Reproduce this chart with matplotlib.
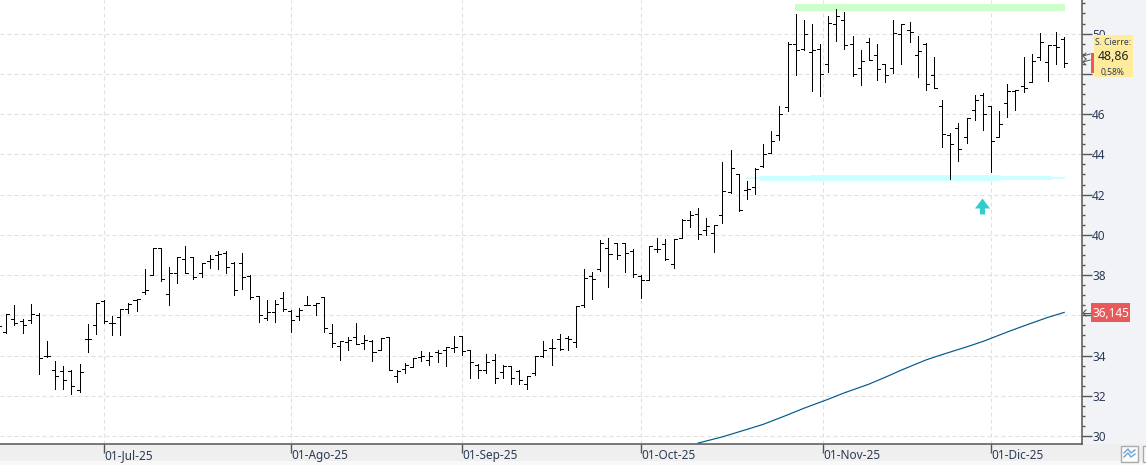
import matplotlib
matplotlib.use("Agg")
import matplotlib.pyplot as plt
from matplotlib.patches import Rectangle
from matplotlib.path import Path
from matplotlib.ticker import FixedFormatter, FixedLocator, MultipleLocator
from matplotlib.transforms import ScaledTranslation

plt.rcParams['font.family'] = ['Noto Sans', 'DejaVu Sans']

# daily bars
opens = [35.5, 35.17, 35.8, 35.7, 35.77, 36.0, 34.0, 33.27, 33.23, 33.23,
         32.27, 34.8, 35.5, 36.73, 35.63, 35.9, 36.3, 36.75, 37.15, 38.02,
         39.33, 37.05, 38.12, 38.78, 38.88, 38.08, 38.72, 38.98, 39.08, 38.58,
         38.62, 37.95, 36.95, 35.88, 36.18, 36.88, 36.22, 35.98, 36.52, 36.52,
         36.92, 35.1, 34.5, 34.67, 34.9, 34.6, 34.73, 34.3, 34.9, 33.0,
         33.33, 33.43, 33.93, 33.77, 34.2, 34.3, 34.4, 34.97, 34.3, 33.53,
         33.27, 33.8, 33.17, 33.5, 33.23, 32.57, 33.13, 33.97, 34.37, 34.8,
         34.87, 34.67, 36.5, 37.95, 38.3, 39.35, 39.6, 39.6, 39.22, 37.95,
         37.75, 39.3, 39.55, 38.55, 39.85, 40.75, 41.05, 40.25, 40.1, 41.0,
         42.13, 43.02, 42.25, 42.38, 43.42, 44.07, 44.98, 46.37, 49.47, 49.24,
         49.1, 49.25, 48.5, 50.5, 50.7, 49.5, 48.31, 49.6, 48.96, 48.51,
         48.31, 50.0, 50.2, 48.96, 49.5, 47.96, 46.42, 44.98, 45.33, 44.88,
         46.19, 46.97, 46.42, 44.88, 46.57, 47.17, 47.42, 47.6, 48.86, 48.61,
         49.45, 49.75]
highs = [36.0, 36.07, 36.5, 35.8, 36.57, 36.1, 34.7, 33.73, 33.5, 33.3,
         33.57, 35.57, 36.6, 36.77, 35.97, 36.3, 36.6, 36.82, 38.28, 39.33,
         39.33, 38.38, 38.88, 39.45, 38.88, 38.58, 38.98, 39.18, 39.18, 38.65,
         39.08, 37.98, 36.95, 36.75, 36.75, 37.15, 36.25, 36.35, 36.98, 36.62,
         36.92, 35.57, 34.7, 34.93, 35.6, 35.0, 34.77, 34.87, 34.9, 33.27,
         33.63, 33.87, 34.23, 34.2, 34.27, 34.43, 34.97, 34.97, 34.3, 33.57,
         34.07, 34.1, 33.53, 33.5, 33.3, 33.0, 33.97, 34.7, 34.8, 35.07,
         34.97, 36.47, 38.32, 38.15, 39.75, 39.82, 39.6, 39.6, 39.32, 38.02,
         39.45, 39.85, 39.8, 39.8, 40.8, 41.2, 41.35, 40.85, 40.5, 43.6,
         44.22, 43.02, 42.67, 43.3, 44.5, 45.15, 46.39, 49.57, 50.99, 50.66,
         50.46, 49.5, 50.86, 51.24, 51.06, 49.87, 49.17, 49.8, 49.47, 48.51,
         50.66, 50.5, 50.56, 49.87, 49.55, 48.82, 46.69, 45.08, 45.58, 45.83,
         46.97, 47.07, 46.42, 46.13, 47.52, 47.22, 48.82, 49.01, 50.05, 49.42,
         50.1, 49.85]
lows = [35.2, 35.1, 35.5, 35.1, 35.63, 33.1, 33.93, 32.33, 32.33, 32.07,
        32.2, 34.17, 35.07, 35.6, 35.03, 35.03, 36.1, 36.22, 37.05, 38.0,
        37.72, 36.52, 37.62, 38.08, 37.82, 37.92, 38.35, 38.28, 38.08, 37.02,
        37.32, 36.82, 35.68, 35.78, 35.65, 36.22, 35.15, 35.75, 36.52, 36.02,
        35.15, 34.43, 33.8, 34.27, 34.57, 34.33, 33.73, 34.27, 33.3, 32.67,
        33.13, 33.43, 33.73, 33.53, 33.67, 33.47, 34.17, 34.03, 32.87, 32.87,
        33.13, 32.63, 32.9, 32.57, 32.6, 32.33, 33.03, 33.93, 33.53, 34.27,
        34.27, 34.43, 36.4, 36.83, 38.18, 37.43, 38.78, 38.13, 37.88, 36.88,
        37.75, 39.13, 38.75, 38.33, 39.85, 40.38, 39.8, 39.97, 39.13, 40.58,
        42.1, 41.2, 41.78, 42.03, 43.38, 44.07, 44.7, 46.14, 47.95, 49.2,
        47.15, 46.9, 48.1, 49.64, 49.24, 47.9, 47.45, 48.71, 47.7, 47.6,
        48.05, 48.49, 49.57, 47.85, 47.19, 47.3, 44.37, 42.78, 43.68, 44.57,
        45.71, 45.22, 43.11, 44.88, 45.86, 46.19, 47.1, 47.6, 48.68, 47.65,
        48.49, 48.34]
closes = [35.47, 36.07, 35.63, 35.53, 36.07, 33.87, 33.97, 32.97, 32.8, 32.5,
          33.2, 34.83, 36.6, 35.73, 35.63, 36.3, 36.57, 36.82, 37.28, 39.33,
          37.8, 38.08, 38.88, 38.12, 37.92, 38.58, 38.78, 39.05, 38.38, 37.28,
          37.92, 36.92, 36.02, 36.15, 36.55, 36.32, 35.78, 36.25, 36.52, 36.62,
          35.38, 34.6, 34.7, 34.77, 34.57, 34.77, 34.2, 34.87, 33.3, 33.23,
          33.53, 33.87, 34.0, 34.0, 34.13, 34.43, 34.43, 34.23, 33.67, 33.27,
          33.67, 32.87, 33.47, 32.9, 32.77, 32.97, 33.97, 34.27, 34.37, 34.33,
          34.8, 36.47, 37.85, 37.8, 39.6, 39.05, 38.98, 39.1, 38.05, 37.75,
          39.45, 39.3, 38.8, 39.8, 40.72, 41.0, 40.05, 40.45, 40.5, 42.2,
          43.3, 41.23, 42.28, 43.25, 44.0, 44.64, 45.98, 49.47, 49.2, 49.97,
          49.2, 47.98, 50.55, 50.89, 49.45, 48.01, 48.66, 48.71, 48.26, 47.96,
          50.05, 50.5, 50.1, 49.16, 47.52, 47.3, 45.03, 44.49, 44.29, 45.79,
          46.69, 45.98, 44.64, 45.53, 47.17, 47.22, 47.32, 48.66, 49.6, 49.42,
          49.35, 48.56]

# moving average, read at a few bars
ma_bars = [86, 89, 92, 94, 97, 99, 102, 104, 107, 109, 111, 114, 116, 119, 121, 124, 126, 129, 131]
ma_values = [29.65, 29.96, 30.33, 30.58, 31.05, 31.38, 31.83, 32.15, 32.58, 32.92,
             33.28, 33.78, 34.05, 34.43, 34.7, 35.17, 35.47, 35.9, 36.145]

date_ticks = [13, 36, 57, 79, 101.4, 122]
date_labels = ["01-Jul-25", "01-Ago-25", "01-Sep-25", "01-Oct-25", "01-Nov-25", "01-Dic-25"]

# 36 and 48 sit under the price tags, so they carry no label
price_ticks = [30, 32, 34, 36, 38, 40, 42, 44, 46, 48, 50]
price_labels = ["30", "32", "34", "", "38", "40", "42", "44", "46", "", "50"]

# hand drawn zones: first bar, last bar, low, high
green_zone = (97.9, 131.1, 51.1, 51.48)
cyan_zones = [(91.9, 93.6, 42.76, 42.86),
              (93.6, 99.8, 42.68, 42.91),
              (99.8, 123.2, 42.66, 42.95),
              (123.2, 129.5, 42.70, 42.91),
              (129.5, 131.1, 42.76, 42.85)]
arrow_bar, arrow_price = 120.9, 41.45

last_ma_label = "36,145"
close_title = "S. Cierre:"
close_value = "48,86"
close_change = "0,58%"

W, H = 1146, 465
PANEL = "#f2f3f6"
AXIS = "#555555"
TEXT = "#2b3a55"

fig = plt.figure(figsize=(W / 100, H / 100), dpi=100, facecolor=PANEL)
fig.add_artist(Rectangle((0, 4 / H), 1, 17.5 / H, transform=fig.transFigure,
                         facecolor="#efefef", edgecolor="none", zorder=-2))
fig.add_artist(Rectangle((0, 0), 1, 4 / H, transform=fig.transFigure,
                         facecolor="#f8f8f8", edgecolor="none", zorder=-2))

ax = fig.add_axes([0, (H - 443.5) / H, 1081.7 / W, 443.5 / H], facecolor="white")
ax.set_xlim(0.226, 133.15)
ax.set_ylim(29.63, 51.67)

# grid
ax.yaxis.set_major_locator(FixedLocator(price_ticks))
ax.yaxis.set_major_formatter(FixedFormatter(price_labels))
ax.yaxis.set_minor_locator(MultipleLocator(0.5))
ax.grid(True, which="major", color="#e0e0e0", linewidth=0.8, linestyle=(0, (3.6, 2.7)), zorder=1)
ax.set_axisbelow(True)

# zones
ax.fill_between(green_zone[:2], green_zone[2], green_zone[3], color="#ccffcc", linewidth=0, zorder=2)
for x0, x1, lo, hi in cyan_zones:
    ax.fill_between([x0, x1], lo, hi, color="#ccffff", linewidth=0, zorder=2)

# bars
idx = list(range(len(closes)))
ax.vlines(idx, lows, highs, color="black", linewidth=0.72, antialiased=False, zorder=3)
ax.hlines(opens, [i - 0.37 for i in idx], idx, color="black", linewidth=0.72, antialiased=False, zorder=3)
ax.hlines(closes, idx, [i + 0.37 for i in idx], color="black", linewidth=0.72, antialiased=False, zorder=3)

ax.plot(ma_bars, ma_values, color="#005a8c", linewidth=0.85, zorder=3)

# arrow under the support
arrow_path = Path([(0, 1), (0.94, -0.25), (0.31, -0.25), (0.31, -1), (-0.31, -1), (-0.31, -0.25), (-0.94, -0.25), (0, 1)],
                  closed=True)
ax.plot([arrow_bar], [arrow_price], marker=arrow_path, markersize=11.5, color="#33cccc",
        markeredgewidth=0, linestyle="none", zorder=4)

# axes
for side in ["top", "left"]:
    ax.spines[side].set_visible(False)
for side in ["right", "bottom"]:
    ax.spines[side].set_color(AXIS)
    ax.spines[side].set_linewidth(1.1)
ax.yaxis.tick_right()
ax.tick_params(axis="y", which="major", length=7, width=1, color=AXIS, labelsize=8.5, labelcolor=TEXT, pad=0.5)
ax.tick_params(axis="y", which="minor", length=2.5, width=1, color=AXIS)
ax.set_xticks(date_ticks, date_labels)
ax.tick_params(axis="x", length=6.5, width=1, color=AXIS, labelsize=8.5, labelcolor=TEXT, pad=-6.5)
offset = ScaledTranslation(0.5 / 100, -5.5 / 100, fig.dpi_scale_trans)
for lbl in ax.get_xticklabels():
    lbl.set_horizontalalignment("left")
    lbl.set_transform(lbl.get_transform() + offset)

# price tags and buttons, on an overlay in pixels
ui = fig.add_axes([0, 0, 1, 1])
ui.set_xlim(0, W)
ui.set_ylim(H, 0)
ui.axis("off")

ui.add_patch(Rectangle((1091, 303), 39, 19, facecolor="#e85a5a", edgecolor="none"))
ui.text(1110.5, 313, last_ma_label, color="white", fontsize=8.5, ha="center", va="center")
ui.plot([1083, 1090], [313, 313], color=AXIS, linewidth=0.8)
ui.plot([1086, 1083, 1086], [310, 313, 316], color=AXIS, linewidth=0.8)

ui.add_patch(Rectangle((1091, 53), 3, 20, facecolor="#e85a5a", edgecolor="none"))
ui.add_patch(Rectangle((1094, 35), 38.7, 42, facecolor="#ffeb9c", edgecolor="none"))
ui.text(1113, 42.5, close_title, color=TEXT, fontsize=6.2, ha="center", va="center")
ui.text(1113, 57, close_value, color="#222222", fontsize=8.8, ha="center", va="center")
ui.text(1113, 72, close_change, color=TEXT, fontsize=6.2, ha="center", va="center")
for y in [56, 62]:
    ui.plot([1083, 1090], [y, y - 2], color=AXIS, linewidth=0.7)
    ui.plot([1086, 1083, 1086], [y - 3, y, y + 3], color=AXIS, linewidth=0.7)

ui.add_patch(Rectangle((1120.5, 445.5), 17, 16.5, facecolor="#fbfbfb", edgecolor="#aaaaaa", linewidth=1))
ui.add_patch(Rectangle((1142.5, 445.5), 8, 16.5, facecolor="#fbfbfb", edgecolor="#aaaaaa", linewidth=1))
ui.plot([1124, 1128, 1131, 1135], [453, 449, 453, 450], color="#6aa5d8", linewidth=1)
ui.plot([1124, 1128, 1131, 1135], [457, 453, 457, 454], color="#6aa5d8", linewidth=1)

fig.savefig("out.png", dpi=100, facecolor=fig.get_facecolor())
